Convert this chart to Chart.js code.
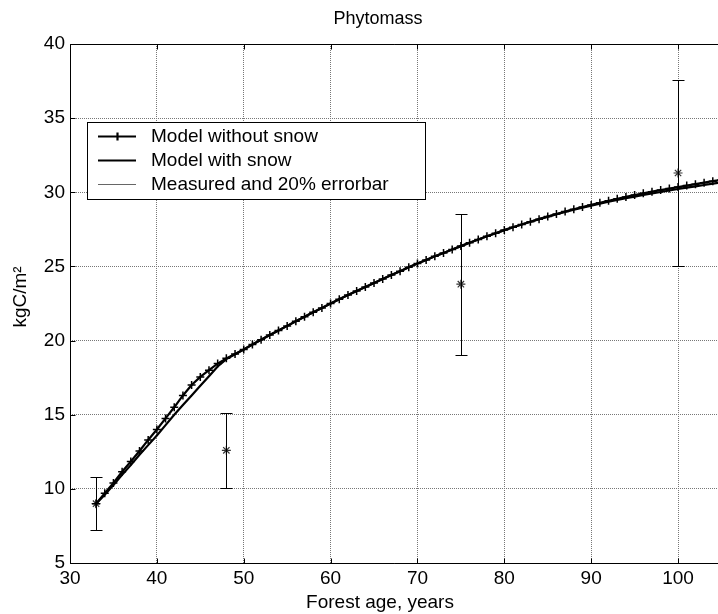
<!DOCTYPE html>
<html>
<head>
<meta charset="utf-8">
<title>Phytomass</title>
<script src="https://cdn.jsdelivr.net/npm/chart.js@4.4.1/dist/chart.umd.min.js"></script>
<style>
  html, body { margin: 0; padding: 0; background: #fff; }
  #wrap { position: relative; width: 718px; height: 614px; }
</style>
</head>
<body>
<div id="wrap"><canvas id="phytomassChart" width="718" height="614"></canvas></div>
<script>
// forest age (years) for the two model runs
const ageYears = [33, 34, 35, 36, 37, 38, 39, 40, 41, 42, 43, 44, 45, 46, 47, 48, 49, 50,
  51, 52, 53, 54, 55, 56, 57, 58, 59, 60, 61, 62, 63, 64, 65, 66, 67, 68, 69, 70,
  71, 72, 73, 74, 75, 76, 77, 78, 79, 80, 81, 82, 83, 84, 85, 86, 87, 88, 89, 90,
  91, 92, 93, 94, 95, 96, 97, 98, 99, 100, 101, 102, 103, 104, 105];

// phytomass, kgC/m2
const modelNoSnow = [9.0, 9.7, 10.4, 11.15, 11.85, 12.55, 13.3, 14.0, 14.75, 15.5, 16.3, 17.0, 17.55, 18.0, 18.45, 18.8, 19.1, 19.4,
  19.73, 20.05, 20.37, 20.68, 20.99, 21.3, 21.6, 21.91, 22.2, 22.5, 22.79, 23.07, 23.35, 23.62, 23.89, 24.16, 24.42, 24.68, 24.94, 25.2,
  25.44, 25.68, 25.91, 26.14, 26.37, 26.6, 26.82, 27.03, 27.24, 27.45, 27.64, 27.83, 28.01, 28.19, 28.36, 28.53, 28.7, 28.86, 29.01, 29.15,
  29.29, 29.43, 29.56, 29.69, 29.81, 29.93, 30.04, 30.15, 30.25, 30.35, 30.45, 30.55, 30.65, 30.75, 30.85];

const modelSnow = [9.0, 9.6, 10.25, 10.95, 11.6, 12.3, 12.95, 13.6, 14.3, 15.0, 15.65, 16.3, 16.95, 17.6, 18.25, 18.75, 19.08, 19.4,
  19.73, 20.05, 20.37, 20.68, 20.99, 21.3, 21.6, 21.91, 22.2, 22.5, 22.79, 23.07, 23.35, 23.62, 23.89, 24.16, 24.42, 24.68, 24.94, 25.2,
  25.44, 25.68, 25.91, 26.14, 26.37, 26.6, 26.82, 27.03, 27.24, 27.45, 27.64, 27.83, 28.01, 28.19, 28.36, 28.52, 28.68, 28.83, 28.97, 29.1,
  29.23, 29.36, 29.48, 29.6, 29.71, 29.82, 29.92, 30.02, 30.12, 30.22, 30.31, 30.4, 30.49, 30.58, 30.66];

// field measurements
const measuredAge = [33, 48, 75, 100];
const measuredMass = [9.0, 12.6, 23.8, 31.3];
const errorFraction = 0.2;

const xTickValues = [30, 40, 50, 60, 70, 80, 90, 100];
const yTickValues = [5, 10, 15, 20, 25, 30, 35, 40];

const seriesLabels = ['Model without snow', 'Model with snow', 'Measured and 20% errorbar'];

const FONT = '"Liberation Sans", Arial, sans-serif';
const TEXT_SIZE = 19;

function toPoints(xs, ys) {
  return xs.map((x, i) => ({ x: x, y: ys[i] }));
}

// axes box, inward ticks, error bars, titles and the boxed legend
const matlabFrame = {
  id: 'matlabFrame',
  afterDatasetsDraw(chart) {
    const ctx = chart.ctx;
    const xs = chart.scales.x, ys = chart.scales.y;
    ctx.save();
    ctx.strokeStyle = '#000';
    ctx.lineWidth = 1;
    measuredAge.forEach((age, i) => {
      const v = measuredMass[i];
      const px = Math.round(xs.getPixelForValue(age)) + 0.5;
      const top = Math.round(ys.getPixelForValue(v * (1 + errorFraction))) + 0.5;
      const bot = Math.round(ys.getPixelForValue(v * (1 - errorFraction))) + 0.5;
      ctx.beginPath();
      ctx.moveTo(px, top); ctx.lineTo(px, bot);
      ctx.moveTo(px - 6, top); ctx.lineTo(px + 6, top);
      ctx.moveTo(px - 6, bot); ctx.lineTo(px + 6, bot);
      ctx.stroke();
    });
    ctx.restore();
  },
  afterDraw(chart) {
    const ctx = chart.ctx;
    const a = chart.chartArea;
    const xs = chart.scales.x, ys = chart.scales.y;
    ctx.save();
    ctx.strokeStyle = '#000';
    ctx.lineWidth = 1;
    const L = Math.round(a.left) + 0.5, B = Math.round(a.bottom) + 0.5, T = Math.round(a.top) + 0.5;
    ctx.beginPath();
    ctx.moveTo(a.right, T); ctx.lineTo(L, T); ctx.lineTo(L, B); ctx.lineTo(a.right, B);
    xTickValues.forEach(v => {
      const px = Math.round(xs.getPixelForValue(v)) + 0.5;
      ctx.moveTo(px, B); ctx.lineTo(px, B - 5);
      ctx.moveTo(px, T); ctx.lineTo(px, T + 5);
    });
    yTickValues.forEach(v => {
      const py = Math.round(ys.getPixelForValue(v)) + 0.5;
      ctx.moveTo(L, py); ctx.lineTo(L + 5, py);
    });
    ctx.stroke();

    // titles
    ctx.fillStyle = '#000';
    ctx.textAlign = 'center';
    ctx.textBaseline = 'middle';
    ctx.font = '18px ' + FONT;
    ctx.fillText('Phytomass', 378, 19);
    ctx.font = TEXT_SIZE + 'px ' + FONT;
    ctx.fillText('Forest age, years', 380, 603);
    ctx.save();
    ctx.translate(21, 297);
    ctx.rotate(-Math.PI / 2);
    ctx.fillText('kgC/m\u00B2', 0, 0);
    ctx.restore();

    // legend
    const box = { x: 87.5, y: 122.5, w: 338, h: 77 };
    ctx.fillStyle = '#fff';
    ctx.fillRect(box.x, box.y, box.w, box.h);
    ctx.strokeRect(box.x, box.y, box.w, box.h);
    const rows = [136, 160, 184];
    chart.data.datasets.forEach((ds, i) => {
      const y = rows[i] + 0.5;
      ctx.strokeStyle = ds.legendColor || ds.borderColor;
      ctx.lineWidth = ds.legendWidth || ds.borderWidth;
      ctx.beginPath();
      ctx.moveTo(98, y); ctx.lineTo(136, y);
      if (ds.pointStyle === 'cross' && ds.pointRadius > 0) {
        ctx.moveTo(117.5, y - 4); ctx.lineTo(117.5, y + 4);
      }
      ctx.stroke();
      ctx.fillStyle = '#000';
      ctx.textAlign = 'left';
      ctx.font = TEXT_SIZE + 'px ' + FONT;
      ctx.fillText(ds.label, 151, rows[i] + 1);
    });
    ctx.restore();
  }
};

const ctx = document.getElementById('phytomassChart').getContext('2d');

new Chart(ctx, {
  type: 'line',
  data: {
    datasets: [{
      label: seriesLabels[0],
      data: toPoints(ageYears, modelNoSnow),
      borderColor: '#000',
      borderWidth: 2.2,
      pointStyle: 'cross',
      pointRadius: 4,
      pointBorderWidth: 1.5,
      pointBorderColor: '#000',
      fill: false,
      tension: 0
    }, {
      label: seriesLabels[1],
      data: toPoints(ageYears, modelSnow),
      borderColor: '#000',
      borderWidth: 2.2,
      pointRadius: 0,
      fill: false,
      tension: 0
    }, {
      label: seriesLabels[2],
      data: toPoints(measuredAge, measuredMass),
      showLine: false,
      borderColor: '#555',
      borderWidth: 1,
      legendColor: '#666',
      pointStyle: 'star',
      pointRadius: 4.5,
      pointBorderWidth: 1.2,
      pointBorderColor: '#333'
    }]
  },
  options: {
    responsive: false,
    animation: false,
    layout: { autoPadding: false, padding: { top: 44, right: 0, left: 0, bottom: 0 } },
    scales: {
      x: {
        type: 'linear',
        min: 30,
        max: 104.6,
        afterBuildTicks: s => { s.ticks = xTickValues.map(v => ({ value: v })); },
        afterFit: s => { s.height = 51; },
        ticks: { color: '#000', font: { family: FONT, size: TEXT_SIZE }, padding: 4, maxRotation: 0 },
        grid: { color: '#777', drawTicks: false },
        border: { display: false, dash: [1, 1] }
      },
      y: {
        type: 'linear',
        min: 5,
        max: 40,
        afterBuildTicks: s => { s.ticks = yTickValues.map(v => ({ value: v })); },
        afterFit: s => { s.width = 70; },
        ticks: { color: '#000', font: { family: FONT, size: TEXT_SIZE }, padding: 5 },
        grid: { color: '#777', drawTicks: false },
        border: { display: false, dash: [1, 1] }
      }
    },
    plugins: {
      legend: { display: false },
      tooltip: { enabled: false },
      title: { display: false }
    }
  },
  plugins: [matlabFrame]
});
</script>
</body>
</html>
